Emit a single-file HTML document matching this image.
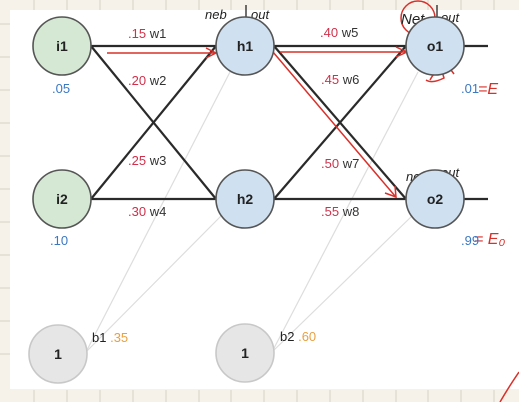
<!DOCTYPE html>
<html><head><meta charset="utf-8"><style>
html,body{margin:0;padding:0;background:#f7f3ea;}
svg{display:block;font-family:"Liberation Sans",sans-serif;}
</style></head><body>
<svg width="519" height="402" viewBox="0 0 519 402">
<rect x="0" y="0" width="519" height="402" fill="#f6f2e9"/>
<g stroke="#d8d2c6" stroke-width="1">
<line x1="34" y1="0" x2="34" y2="10"/><line x1="67" y1="0" x2="67" y2="10"/><line x1="100" y1="0" x2="100" y2="10"/><line x1="133" y1="0" x2="133" y2="10"/><line x1="166" y1="0" x2="166" y2="10"/><line x1="199" y1="0" x2="199" y2="10"/><line x1="231" y1="0" x2="231" y2="10"/><line x1="264" y1="0" x2="264" y2="10"/><line x1="297" y1="0" x2="297" y2="10"/><line x1="330" y1="0" x2="330" y2="10"/><line x1="363" y1="0" x2="363" y2="10"/><line x1="396" y1="0" x2="396" y2="10"/><line x1="428" y1="0" x2="428" y2="10"/><line x1="461" y1="0" x2="461" y2="10"/><line x1="494" y1="0" x2="494" y2="10"/>
<line x1="34" y1="390" x2="34" y2="402"/><line x1="67" y1="390" x2="67" y2="402"/><line x1="100" y1="390" x2="100" y2="402"/><line x1="133" y1="390" x2="133" y2="402"/><line x1="166" y1="390" x2="166" y2="402"/><line x1="199" y1="390" x2="199" y2="402"/><line x1="231" y1="390" x2="231" y2="402"/><line x1="264" y1="390" x2="264" y2="402"/><line x1="297" y1="390" x2="297" y2="402"/><line x1="330" y1="390" x2="330" y2="402"/><line x1="363" y1="390" x2="363" y2="402"/><line x1="396" y1="390" x2="396" y2="402"/><line x1="428" y1="390" x2="428" y2="402"/><line x1="461" y1="390" x2="461" y2="402"/><line x1="494" y1="390" x2="494" y2="402"/>
<line x1="0" y1="24" x2="10" y2="24"/><line x1="0" y1="57" x2="10" y2="57"/><line x1="0" y1="90" x2="10" y2="90"/><line x1="0" y1="123" x2="10" y2="123"/><line x1="0" y1="156" x2="10" y2="156"/><line x1="0" y1="189" x2="10" y2="189"/><line x1="0" y1="222" x2="10" y2="222"/><line x1="0" y1="255" x2="10" y2="255"/><line x1="0" y1="288" x2="10" y2="288"/><line x1="0" y1="321" x2="10" y2="321"/><line x1="0" y1="354" x2="10" y2="354"/>
</g>
<rect x="10" y="10" width="509" height="379" fill="#ffffff"/>
<g stroke="#dddddd" stroke-width="1.2">
<line x1="86" y1="352" x2="230" y2="72"/><line x1="86" y1="352" x2="222" y2="215"/>
<line x1="272" y1="352" x2="418" y2="72"/><line x1="272" y1="352" x2="413" y2="215"/>
</g>
<g stroke="#2a2a2a" stroke-width="2.2">
<line x1="91" y1="46" x2="216" y2="46"/><line x1="91" y1="46" x2="216" y2="199"/>
<line x1="91" y1="199" x2="216" y2="46"/><line x1="91" y1="199" x2="216" y2="199"/>
<line x1="274" y1="46" x2="406" y2="46"/><line x1="274" y1="46" x2="406" y2="199"/>
<line x1="274" y1="199" x2="406" y2="46"/><line x1="274" y1="199" x2="406" y2="199"/>
<line x1="464" y1="46" x2="488" y2="46"/><line x1="464" y1="199" x2="488" y2="199"/>
</g>
<g stroke="#d9302a" stroke-width="1.5" fill="none">
<line x1="107" y1="53" x2="215" y2="53"/><path d="M206 48 L216 53 L206 58"/>
<line x1="280" y1="52" x2="405" y2="52"/><path d="M396 47 L407 52 L396 57"/>
<line x1="273" y1="52" x2="395" y2="196"/><path d="M385 193 L396 197 L395 186"/>
<ellipse cx="418" cy="18" rx="17" ry="17"/>
<path d="M430 80 q10 -18 14 -2 q-12 6 -18 2 M448 66 l6 8"/>
<path d="M448 210 l8 10"/>
<text x="478" y="94" font-size="16" fill="#d9302a" stroke="none" font-style="italic">=E</text>
<text x="474" y="244" font-size="16" fill="#d9302a" stroke="none" font-style="italic">= E₀</text>
<path d="M500 402 Q510 385 519 372"/>
</g>
<g stroke="#222" stroke-width="1.3" fill="none">
<line x1="246" y1="5" x2="246" y2="40"/><line x1="437" y1="5" x2="437" y2="26"/><line x1="436" y1="170" x2="436" y2="190"/>
</g>
<g font-size="13" fill="#222" font-style="italic">
<text x="205" y="19">neb</text><text x="251" y="19">out</text>
<text x="401" y="24" font-size="15">Net</text><text x="441" y="22">out</text>
<text x="406" y="181">net</text><text x="441" y="177">out</text>
</g>
<g stroke="#555" stroke-width="1.6">
<circle cx="62" cy="46" r="29" fill="#d5e8d4"/>
<circle cx="62" cy="199" r="29" fill="#d5e8d4"/>
<circle cx="245" cy="46" r="29" fill="#cfe0f0"/>
<circle cx="245" cy="199" r="29" fill="#cfe0f0"/>
<circle cx="435" cy="46" r="29" fill="#cfe0f0"/>
<circle cx="435" cy="199" r="29" fill="#cfe0f0"/>
<circle cx="58" cy="354" r="29" fill="#e6e6e6" stroke="#c8c8c8"/>
<circle cx="245" cy="353" r="29" fill="#e6e6e6" stroke="#c8c8c8"/>
</g>
<g font-size="14" font-weight="bold" fill="#222" text-anchor="middle">
<text x="62" y="51">i1</text><text x="62" y="204">i2</text>
<text x="245" y="51">h1</text><text x="245" y="204">h2</text>
<text x="435" y="51">o1</text><text x="435" y="204">o2</text>
<text x="58" y="359">1</text><text x="245" y="358">1</text>
</g>
<g font-size="13">
<text x="128" y="38"><tspan fill="#d0304a">.15</tspan><tspan fill="#333"> w1</tspan></text>
<text x="128" y="85"><tspan fill="#d0304a">.20</tspan><tspan fill="#333"> w2</tspan></text>
<text x="128" y="165"><tspan fill="#d0304a">.25</tspan><tspan fill="#333"> w3</tspan></text>
<text x="128" y="216"><tspan fill="#d0304a">.30</tspan><tspan fill="#333"> w4</tspan></text>
<text x="320" y="37"><tspan fill="#d0304a">.40</tspan><tspan fill="#333"> w5</tspan></text>
<text x="321" y="84"><tspan fill="#d0304a">.45</tspan><tspan fill="#333"> w6</tspan></text>
<text x="321" y="168"><tspan fill="#d0304a">.50</tspan><tspan fill="#333"> w7</tspan></text>
<text x="321" y="216"><tspan fill="#d0304a">.55</tspan><tspan fill="#333"> w8</tspan></text>
</g>
<g font-size="13">
<text x="52" y="93" fill="#3a78c4">.05</text>
<text x="50" y="245" fill="#3a78c4">.10</text>
<text x="461" y="93" fill="#3a78c4">.01</text>
<text x="461" y="245" fill="#3a78c4">.99</text>
<text x="92" y="342"><tspan fill="#222">b1</tspan><tspan fill="#e8a040"> .35</tspan></text>
<text x="280" y="341"><tspan fill="#222">b2</tspan><tspan fill="#e8a040"> .60</tspan></text>
</g>
</svg>
</body></html>
